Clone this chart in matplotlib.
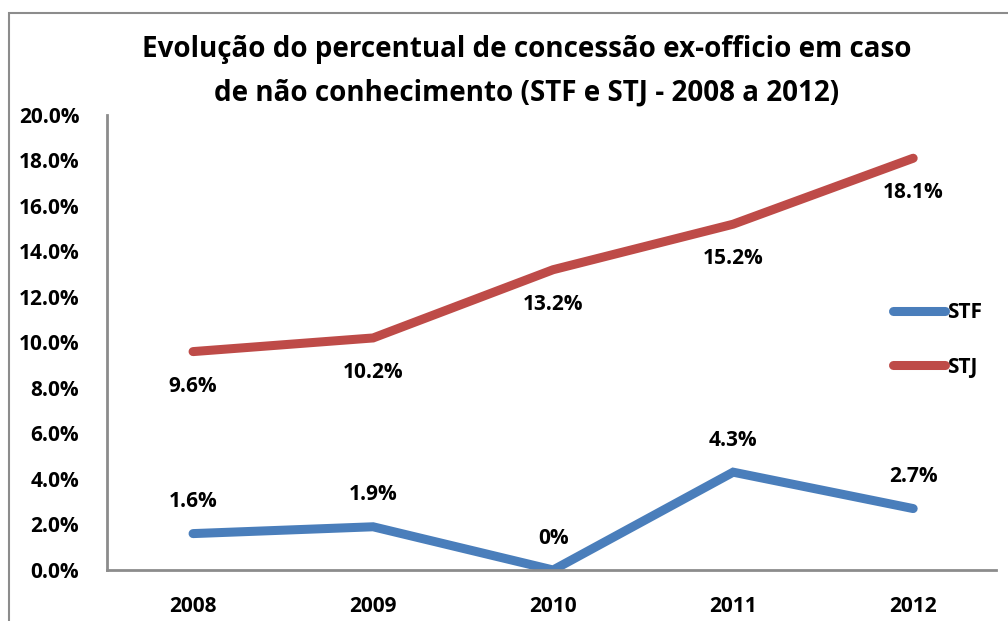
import matplotlib.pyplot as plt
from matplotlib.patches import Rectangle
from matplotlib.ticker import FuncFormatter

plt.rcParams['font.family'] = ['Open Sans', 'DejaVu Sans']
plt.rcParams['font.weight'] = 'bold'

years = ['2008', '2009', '2010', '2011', '2012']
stf = [1.6, 1.9, 0.0, 4.3, 2.7]
stj = [9.6, 10.2, 13.2, 15.2, 18.1]
stf_labels = ['1.6%', '1.9%', '0%', '4.3%', '2.7%']
stj_labels = ['9.6%', '10.2%', '13.2%', '15.2%', '18.1%']

blue = '#4A7EBB'
red = '#BE4B48'
grey = '#8C8C8C'

fig = plt.figure(figsize=(10.08, 6.21), dpi=100)
ax = fig.add_axes([107/1008, 1-570/621, (996-107)/1008, (570-115)/621])

# outer chart border
fig.patches.append(Rectangle((9/1008, -0.1), 1.2, 1-13/621+0.1, transform=fig.transFigure,
                             fill=False, edgecolor=grey, linewidth=1.5))

x = range(len(years))
ax.plot(x, stf, color=blue, lw=6.5, solid_capstyle='round', solid_joinstyle='miter', label='STF')
ax.plot(x, stj, color=red, lw=6.5, solid_capstyle='round', solid_joinstyle='miter', label='STJ')

for i in x:
    ax.annotate(stf_labels[i], (i, stf[i]), xytext=(0, 23), textcoords='offset points',
                ha='center', va='center', fontsize=15, fontweight='bold')
    ax.annotate(stj_labels[i], (i, stj[i]), xytext=(0, -25), textcoords='offset points',
                ha='center', va='center', fontsize=15, fontweight='bold')

ax.set_xlim(-0.478, 4.46)
ax.set_ylim(0, 20)
ax.set_yticks(range(0, 21, 2))
ax.yaxis.set_major_formatter(FuncFormatter(lambda v, p: '%.1f%%' % v))
ax.set_xticks(list(x))
ax.set_xticklabels(years)
ax.tick_params(axis='both', length=0, labelsize=15)
ax.tick_params(axis='y', pad=20)
ax.tick_params(axis='x', pad=19)
for s in ['top', 'right']:
    ax.spines[s].set_visible(False)
for s in ['left', 'bottom']:
    ax.spines[s].set_color(grey)
    ax.spines[s].set_linewidth(2)

ax.legend(loc='center left', bbox_to_anchor=(874/1008, 1-340/621), bbox_transform=fig.transFigure,
          frameon=False, handlelength=2.5, handletextpad=0.1, labelspacing=1.6,
          prop={'size': 15, 'weight': 'bold'})

fig.text(527/1008, 1-50/621, 'Evolução do percentual de concessão ex-officio em caso', ha='center', va='center',
         fontsize=20, fontweight='bold')
fig.text(527/1008, 1-93/621, 'de não conhecimento (STF e STJ - 2008 a 2012)', ha='center', va='center',
         fontsize=20, fontweight='bold')

fig.savefig('out.png', dpi=100)
